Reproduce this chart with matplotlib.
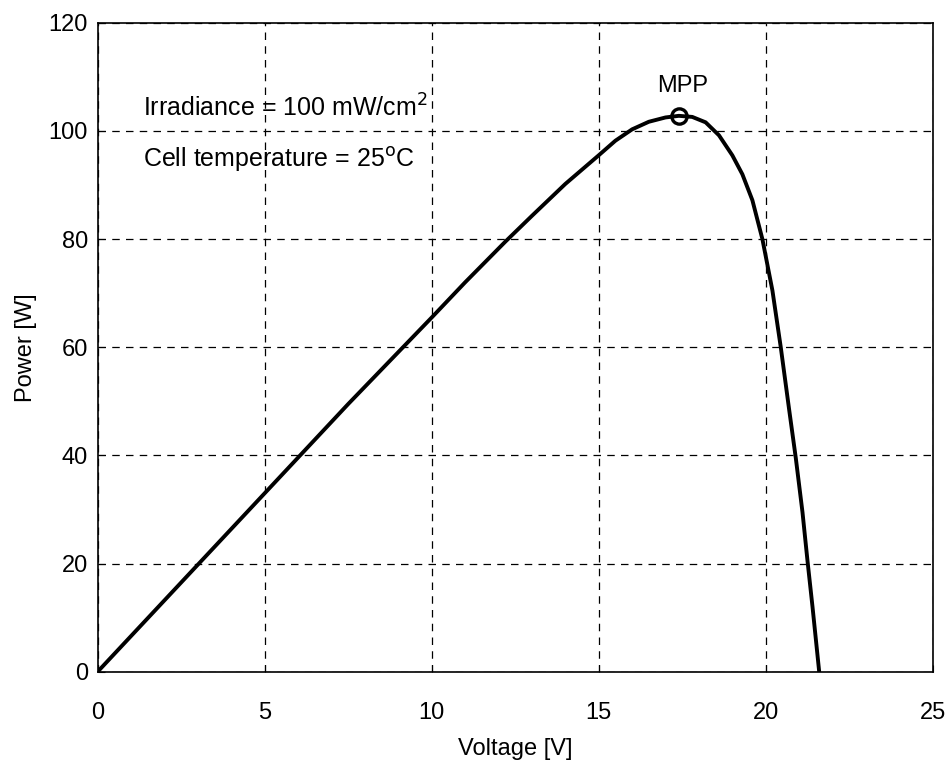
#!/usr/bin/env python3
"""P-V curve of a PV module with the maximum power point marked."""
import matplotlib.pyplot as plt

# values
voltage = [0, 1, 2.5, 5, 7.5, 10, 11, 12.2, 13, 14, 15, 15.5, 16, 16.5,
           17, 17.4, 17.8, 18.2, 18.6, 19, 19.3, 19.6, 19.9, 20.2, 20.45,
           20.7, 20.9, 21.1, 21.25, 21.4, 21.5, 21.6]
power = [0, 6.6, 16.5, 33, 49.5, 65.5, 72, 79.5, 84.3, 90.2, 95.5, 98.2,
         100.3, 101.7, 102.5, 102.8, 102.6, 101.6, 99.2, 95.5, 92, 87.2, 80,
         70.5, 60, 48.5, 39.5, 29.5, 20.5, 12, 6, 0]
mpp_v, mpp_p = 17.4, 102.8

plt.rcParams["font.family"] = ["Liberation Sans", "DejaVu Sans"]

fig = plt.figure(figsize=(9.47, 7.6), dpi=100)
ax = fig.add_axes([0.103, 0.116, 0.882, 0.854])

ax.plot(voltage, power, color="black", lw=2.8, solid_joinstyle="round")
ax.plot([mpp_v], [mpp_p], marker="o", ms=11, mfc="none", mec="black", mew=2.4)
ax.text(mpp_v + 0.1, 106.3, "MPP", ha="center", va="bottom", fontsize=17)

ax.text(1.35, 104.2, "Irradiance = 100 mW/cm$^2$", fontsize=18, va="center")
ax.text(1.35, 94.8, "Cell temperature = 25$^{\\rm o}$C", fontsize=18, va="center")

ax.set_xlim(0, 25)
ax.set_ylim(0, 120)
ax.set_xticks(range(0, 26, 5))
ax.set_yticks(range(0, 121, 20))
ax.tick_params(direction="in", labelsize=17, length=5)
ax.tick_params(axis="x", pad=22)
ax.tick_params(axis="y", pad=7)
ax.grid(True, color="black", linestyle=(0, (6, 5)), lw=0.9)
ax.set_xlabel("Voltage [V]", fontsize=17, labelpad=10)
ax.set_ylabel("Power [W]", fontsize=17, labelpad=8)
for s in ax.spines.values():
    s.set_linewidth(1.2)

fig.savefig("out.png", dpi=100)
